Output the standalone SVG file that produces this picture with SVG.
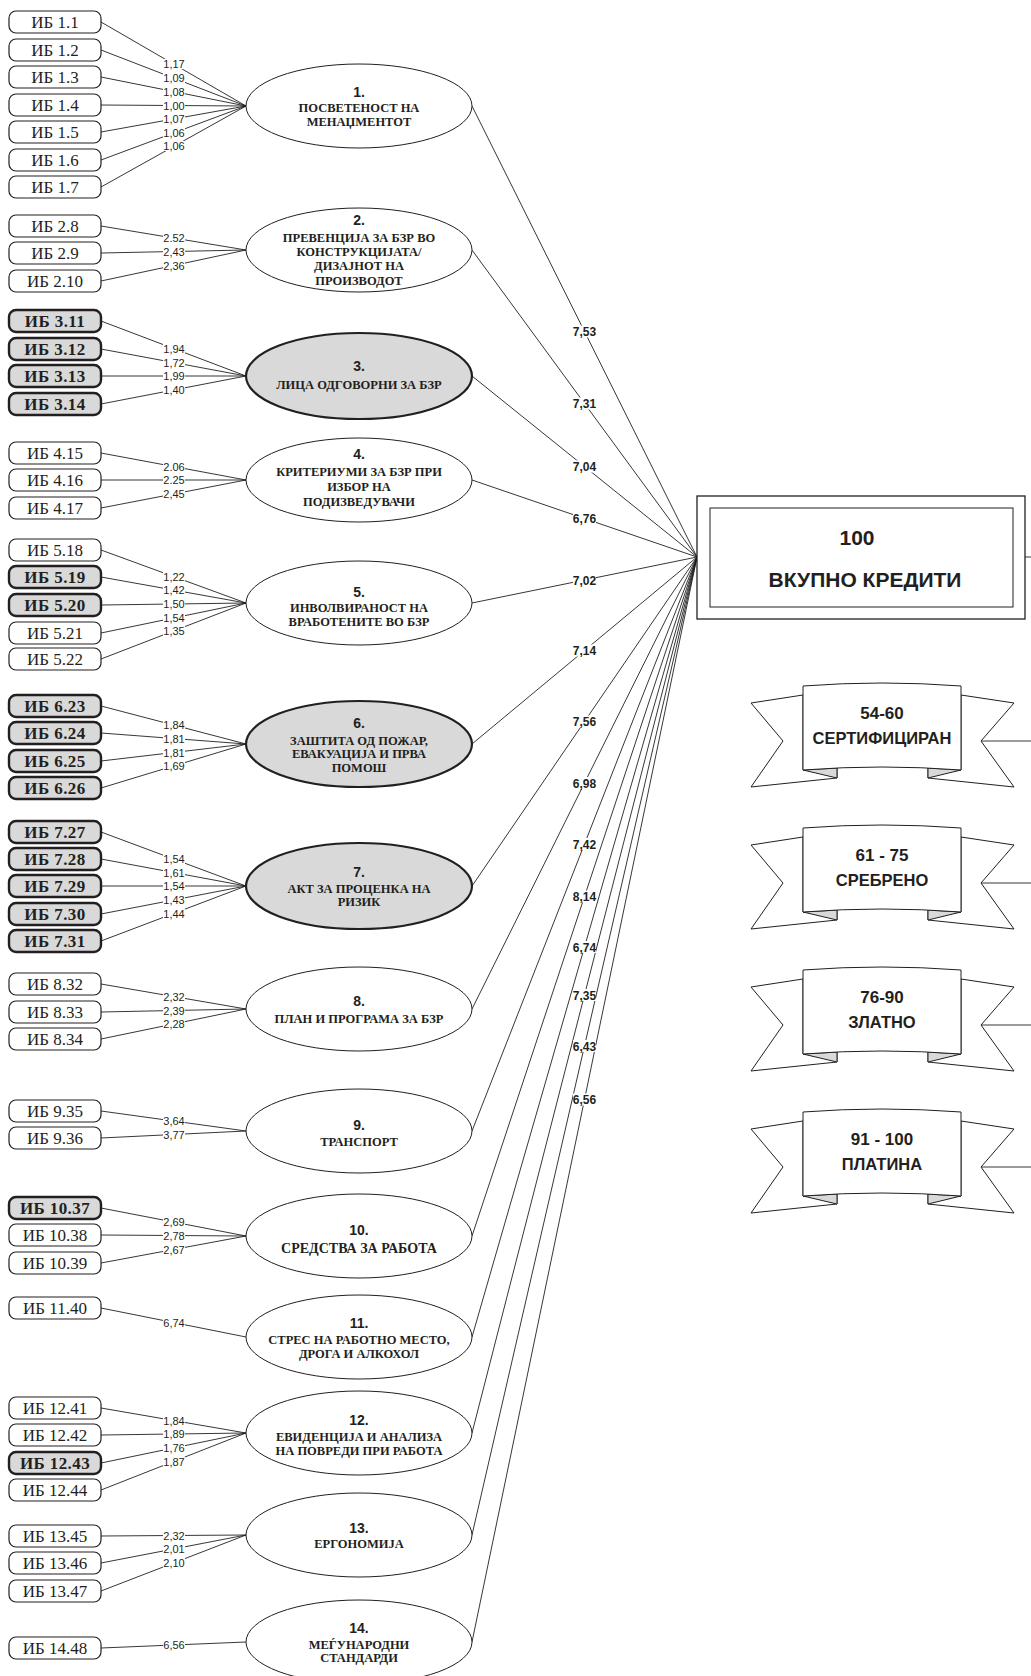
<svg xmlns="http://www.w3.org/2000/svg" xmlns:xlink="http://www.w3.org/1999/xlink" width="1031" height="1676" viewBox="0 0 1031 1676">
<style>
.bg{fill:#fff}
.ib rect{fill:#fff;stroke:#231f20;stroke-width:1.2}
.ib text{font-family:"Liberation Serif",serif;font-size:17px;fill:#231f20;text-anchor:middle}
.ibb rect{fill:#d9d9d9;stroke:#231f20;stroke-width:2.4}
.ibb text{font-family:"Liberation Serif",serif;font-size:17px;font-weight:bold;fill:#231f20;text-anchor:middle;letter-spacing:0.4px}
.el ellipse{fill:#fff;stroke:#231f20;stroke-width:1}
.elg ellipse{fill:#d9d9d9;stroke:#231f20;stroke-width:2.2}
.num{font-family:"Liberation Sans",sans-serif;font-size:14px;font-weight:bold;fill:#231f20;text-anchor:middle}
.et{font-family:"Liberation Serif",serif;font-size:12.5px;font-weight:bold;fill:#231f20;text-anchor:middle}
.conn line{stroke:#231f20;stroke-width:0.9}
.lb{font-family:"Liberation Sans",sans-serif;font-size:11px;fill:#231f20;text-anchor:middle}
.fl{font-family:"Liberation Sans",sans-serif;font-size:12px;font-weight:bold;fill:#231f20;text-anchor:middle}
.shape{fill:#fff;stroke:#231f20;stroke-width:1}
.fold{fill:#d9d9d9;stroke:#231f20;stroke-width:1}
.bt{font-family:"Liberation Sans",sans-serif;font-weight:bold;fill:#231f20;text-anchor:middle}
</style>
<defs>
<g id="bannerShape">
<polygon class="shape" points="803,695 751,703 783,741 751,787 837,778 837,768 803,770"/>
<polygon class="shape" points="961,695 1014,703 981,741 1014,787 928,778 928,768 961,770"/>
<polygon class="fold" points="803,770 837,768 837,778"/>
<polygon class="fold" points="961,770 928,768 928,778"/>
<path class="shape" d="M803,686 Q882,680 961,686 L961,770 Q882,764 803,770 Z"/>
</g>
</defs>
<rect x="0" y="0" width="1031" height="1676" fill="#fff"/>

<g id="connectors" class="conn">
<!-- group 1 -->
<line x1="101" y1="22" x2="246" y2="106"/>
<line x1="101" y1="50" x2="246" y2="106"/>
<line x1="101" y1="77" x2="246" y2="106"/>
<line x1="101" y1="105" x2="246" y2="106"/>
<line x1="101" y1="132" x2="246" y2="106"/>
<line x1="101" y1="160" x2="246" y2="106"/>
<line x1="101" y1="187" x2="246" y2="106"/>
<!-- group 2 -->
<line x1="101" y1="226" x2="246" y2="250"/>
<line x1="101" y1="253" x2="246" y2="250"/>
<line x1="101" y1="281" x2="246" y2="250"/>
<!-- group 3 -->
<line x1="101" y1="321" x2="246" y2="376"/>
<line x1="101" y1="349" x2="246" y2="376"/>
<line x1="101" y1="376" x2="246" y2="376"/>
<line x1="101" y1="404" x2="246" y2="376"/>
<!-- group 4 -->
<line x1="101" y1="453" x2="246" y2="480"/>
<line x1="101" y1="480" x2="246" y2="480"/>
<line x1="101" y1="508" x2="246" y2="480"/>
<!-- group 5 -->
<line x1="101" y1="550" x2="246" y2="603"/>
<line x1="101" y1="577" x2="246" y2="603"/>
<line x1="101" y1="605" x2="246" y2="603"/>
<line x1="101" y1="633" x2="246" y2="603"/>
<line x1="101" y1="659" x2="246" y2="603"/>
<!-- group 6 -->
<line x1="101" y1="706" x2="246" y2="744"/>
<line x1="101" y1="733" x2="246" y2="744"/>
<line x1="101" y1="761" x2="246" y2="744"/>
<line x1="101" y1="788" x2="246" y2="744"/>
<!-- group 7 -->
<line x1="101" y1="832" x2="246" y2="886"/>
<line x1="101" y1="859" x2="246" y2="886"/>
<line x1="101" y1="886" x2="246" y2="886"/>
<line x1="101" y1="914" x2="246" y2="886"/>
<line x1="101" y1="941" x2="246" y2="886"/>
<!-- group 8 -->
<line x1="101" y1="984" x2="246" y2="1009"/>
<line x1="101" y1="1012" x2="246" y2="1009"/>
<line x1="101" y1="1039" x2="246" y2="1009"/>
<!-- group 9 -->
<line x1="101" y1="1111" x2="246" y2="1131"/>
<line x1="101" y1="1138" x2="246" y2="1131"/>
<!-- group 10 -->
<line x1="101" y1="1208" x2="246" y2="1236"/>
<line x1="101" y1="1235" x2="246" y2="1236"/>
<line x1="101" y1="1263" x2="246" y2="1236"/>
<!-- group 11 -->
<line x1="101" y1="1308" x2="246" y2="1337"/>
<!-- group 12 -->
<line x1="101" y1="1408" x2="246" y2="1433"/>
<line x1="101" y1="1435" x2="246" y2="1433"/>
<line x1="101" y1="1463" x2="246" y2="1433"/>
<line x1="101" y1="1490" x2="246" y2="1433"/>
<!-- group 13 -->
<line x1="101" y1="1536" x2="246" y2="1535"/>
<line x1="101" y1="1563" x2="246" y2="1535"/>
<line x1="101" y1="1591" x2="246" y2="1535"/>
<!-- group 14 -->
<line x1="101" y1="1648" x2="246" y2="1642"/>
<!-- fan to total -->
<line x1="472" y1="106" x2="697" y2="557"/>
<line x1="472" y1="250" x2="697" y2="557"/>
<line x1="472" y1="376" x2="697" y2="557"/>
<line x1="472" y1="480" x2="697" y2="557"/>
<line x1="472" y1="603" x2="697" y2="557"/>
<line x1="472" y1="744" x2="697" y2="557"/>
<line x1="472" y1="886" x2="697" y2="557"/>
<line x1="472" y1="1009" x2="697" y2="557"/>
<line x1="472" y1="1131" x2="697" y2="557"/>
<line x1="472" y1="1236" x2="697" y2="557"/>
<line x1="472" y1="1337" x2="697" y2="557"/>
<line x1="472" y1="1433" x2="697" y2="557"/>
<line x1="472" y1="1535" x2="697" y2="557"/>
<line x1="472" y1="1642" x2="697" y2="557"/>
<!-- outgoing stubs -->
<line x1="1025" y1="557" x2="1031" y2="557"/>
<line x1="981" y1="741" x2="1031" y2="741"/>
<line x1="981" y1="883" x2="1031" y2="883"/>
<line x1="981" y1="1025" x2="1031" y2="1025"/>
<line x1="981" y1="1167" x2="1031" y2="1167"/>

<!-- IB weight labels -->
<g id="ib-labels">
<rect class="bg" x="163" y="59" width="22" height="10"/><text class="lb" x="174" y="68">1,17</text>
<rect class="bg" x="163" y="73" width="22" height="10"/><text class="lb" x="174" y="82">1,09</text>
<rect class="bg" x="163" y="87" width="22" height="10"/><text class="lb" x="174" y="95.5">1,08</text>
<rect class="bg" x="163" y="100.5" width="22" height="10"/><text class="lb" x="174" y="109.5">1,00</text>
<rect class="bg" x="163" y="114" width="22" height="10"/><text class="lb" x="174" y="123">1,07</text>
<rect class="bg" x="163" y="128" width="22" height="10"/><text class="lb" x="174" y="137">1,06</text>
<rect class="bg" x="163" y="141" width="22" height="10"/><text class="lb" x="174" y="150">1,06</text>

<rect class="bg" x="163" y="233" width="22" height="10"/><text class="lb" x="174" y="242">2.52</text>
<rect class="bg" x="163" y="246.5" width="22" height="10"/><text class="lb" x="174" y="255.5">2,43</text>
<rect class="bg" x="163" y="260.5" width="22" height="10"/><text class="lb" x="174" y="269.5">2,36</text>

<rect class="bg" x="163" y="343.5" width="22" height="10"/><text class="lb" x="174" y="352.5">1,94</text>
<rect class="bg" x="163" y="357.5" width="22" height="10"/><text class="lb" x="174" y="366.5">1,72</text>
<rect class="bg" x="163" y="371" width="22" height="10"/><text class="lb" x="174" y="380">1,99</text>
<rect class="bg" x="163" y="385" width="22" height="10"/><text class="lb" x="174" y="394">1,40</text>

<rect class="bg" x="163" y="461.5" width="22" height="10"/><text class="lb" x="174" y="470.5">2.06</text>
<rect class="bg" x="163" y="475" width="22" height="10"/><text class="lb" x="174" y="484">2.25</text>
<rect class="bg" x="163" y="489" width="22" height="10"/><text class="lb" x="174" y="498">2,45</text>

<rect class="bg" x="163" y="571.5" width="22" height="10"/><text class="lb" x="174" y="580.5">1,22</text>
<rect class="bg" x="163" y="585" width="22" height="10"/><text class="lb" x="174" y="594">1,42</text>
<rect class="bg" x="163" y="599" width="22" height="10"/><text class="lb" x="174" y="608">1,50</text>
<rect class="bg" x="163" y="613" width="22" height="10"/><text class="lb" x="174" y="622">1,54</text>
<rect class="bg" x="163" y="626" width="22" height="10"/><text class="lb" x="174" y="635">1,35</text>

<rect class="bg" x="163" y="720" width="22" height="10"/><text class="lb" x="174" y="729">1,84</text>
<rect class="bg" x="163" y="733.5" width="22" height="10"/><text class="lb" x="174" y="742.5">1,81</text>
<rect class="bg" x="163" y="747.5" width="22" height="10"/><text class="lb" x="174" y="756.5">1,81</text>
<rect class="bg" x="163" y="761" width="22" height="10"/><text class="lb" x="174" y="770">1,69</text>

<rect class="bg" x="163" y="854" width="22" height="10"/><text class="lb" x="174" y="863">1,54</text>
<rect class="bg" x="163" y="867.5" width="22" height="10"/><text class="lb" x="174" y="876.5">1,61</text>
<rect class="bg" x="163" y="881" width="22" height="10"/><text class="lb" x="174" y="890">1,54</text>
<rect class="bg" x="163" y="895" width="22" height="10"/><text class="lb" x="174" y="904">1,43</text>
<rect class="bg" x="163" y="908.5" width="22" height="10"/><text class="lb" x="174" y="917.5">1,44</text>

<rect class="bg" x="163" y="991.5" width="22" height="10"/><text class="lb" x="174" y="1000.5">2,32</text>
<rect class="bg" x="163" y="1005.5" width="22" height="10"/><text class="lb" x="174" y="1014.5">2,39</text>
<rect class="bg" x="163" y="1019" width="22" height="10"/><text class="lb" x="174" y="1028">2,28</text>

<rect class="bg" x="163" y="1116" width="22" height="10"/><text class="lb" x="174" y="1125">3,64</text>
<rect class="bg" x="163" y="1129.5" width="22" height="10"/><text class="lb" x="174" y="1138.5">3,77</text>

<rect class="bg" x="163" y="1217" width="22" height="10"/><text class="lb" x="174" y="1226">2,69</text>
<rect class="bg" x="163" y="1230.5" width="22" height="10"/><text class="lb" x="174" y="1239.5">2,78</text>
<rect class="bg" x="163" y="1244.5" width="22" height="10"/><text class="lb" x="174" y="1253.5">2,67</text>

<rect class="bg" x="163" y="1317.5" width="22" height="10"/><text class="lb" x="174" y="1326.5">6,74</text>

<rect class="bg" x="163" y="1415.5" width="22" height="10"/><text class="lb" x="174" y="1424.5">1,84</text>
<rect class="bg" x="163" y="1429" width="22" height="10"/><text class="lb" x="174" y="1438">1,89</text>
<rect class="bg" x="163" y="1443" width="22" height="10"/><text class="lb" x="174" y="1452">1,76</text>
<rect class="bg" x="163" y="1456.5" width="22" height="10"/><text class="lb" x="174" y="1465.5">1,87</text>

<rect class="bg" x="163" y="1530.5" width="22" height="10"/><text class="lb" x="174" y="1539.5">2,32</text>
<rect class="bg" x="163" y="1544" width="22" height="10"/><text class="lb" x="174" y="1553">2,01</text>
<rect class="bg" x="163" y="1558" width="22" height="10"/><text class="lb" x="174" y="1567">2,10</text>

<rect class="bg" x="163" y="1640" width="22" height="10"/><text class="lb" x="174" y="1649">6,56</text>
</g>

<!-- fan weight labels -->
<g id="fan-labels">
<rect class="bg" x="573" y="325.5" width="23" height="12"/><text class="fl" x="584.5" y="336">7,53</text>
<rect class="bg" x="573" y="397.5" width="23" height="12"/><text class="fl" x="584.5" y="408">7,31</text>
<rect class="bg" x="573" y="460.5" width="23" height="12"/><text class="fl" x="584.5" y="471">7,04</text>
<rect class="bg" x="573" y="512.5" width="23" height="12"/><text class="fl" x="584.5" y="523">6,76</text>
<rect class="bg" x="573" y="574" width="23" height="12"/><text class="fl" x="584.5" y="584.5">7,02</text>
<rect class="bg" x="573" y="644.5" width="23" height="12"/><text class="fl" x="584.5" y="655">7,14</text>
<rect class="bg" x="573" y="715.5" width="23" height="12"/><text class="fl" x="584.5" y="726">7,56</text>
<rect class="bg" x="573" y="777" width="23" height="12"/><text class="fl" x="584.5" y="787.5">6,98</text>
<rect class="bg" x="573" y="838" width="23" height="12"/><text class="fl" x="584.5" y="848.5">7,42</text>
<rect class="bg" x="573" y="890.5" width="23" height="12"/><text class="fl" x="584.5" y="901">8,14</text>
<rect class="bg" x="573" y="941" width="23" height="12"/><text class="fl" x="584.5" y="951.5">6,74</text>
<rect class="bg" x="573" y="989" width="23" height="12"/><text class="fl" x="584.5" y="999.5">7,35</text>
<rect class="bg" x="573" y="1040" width="23" height="12"/><text class="fl" x="584.5" y="1050.5">6,43</text>
<rect class="bg" x="573" y="1093.5" width="23" height="12"/><text class="fl" x="584.5" y="1104">6,56</text>
</g>
</g>

<!-- IB nodes -->
<g id="ib-1-1" class="ib"><rect x="9" y="11" width="92" height="22" rx="7"/><text x="55" y="28">ИБ 1.1</text></g>
<g id="ib-1-2" class="ib"><rect x="9" y="39" width="92" height="22" rx="7"/><text x="55" y="56">ИБ 1.2</text></g>
<g id="ib-1-3" class="ib"><rect x="9" y="66" width="92" height="22" rx="7"/><text x="55" y="83">ИБ 1.3</text></g>
<g id="ib-1-4" class="ib"><rect x="9" y="94" width="92" height="22" rx="7"/><text x="55" y="111">ИБ 1.4</text></g>
<g id="ib-1-5" class="ib"><rect x="9" y="121" width="92" height="22" rx="7"/><text x="55" y="138">ИБ 1.5</text></g>
<g id="ib-1-6" class="ib"><rect x="9" y="149" width="92" height="22" rx="7"/><text x="55" y="166">ИБ 1.6</text></g>
<g id="ib-1-7" class="ib"><rect x="9" y="176" width="92" height="22" rx="7"/><text x="55" y="193">ИБ 1.7</text></g>

<g id="ib-2-8" class="ib"><rect x="9" y="215" width="92" height="22" rx="7"/><text x="55" y="232">ИБ 2.8</text></g>
<g id="ib-2-9" class="ib"><rect x="9" y="242" width="92" height="22" rx="7"/><text x="55" y="259">ИБ 2.9</text></g>
<g id="ib-2-10" class="ib"><rect x="9" y="270" width="92" height="22" rx="7"/><text x="55" y="287">ИБ 2.10</text></g>

<g id="ib-3-11" class="ibb"><rect x="9" y="310" width="92" height="22" rx="7"/><text x="55" y="327">ИБ 3.11</text></g>
<g id="ib-3-12" class="ibb"><rect x="9" y="338" width="92" height="22" rx="7"/><text x="55" y="355">ИБ 3.12</text></g>
<g id="ib-3-13" class="ibb"><rect x="9" y="365" width="92" height="22" rx="7"/><text x="55" y="382">ИБ 3.13</text></g>
<g id="ib-3-14" class="ibb"><rect x="9" y="393" width="92" height="22" rx="7"/><text x="55" y="410">ИБ 3.14</text></g>

<g id="ib-4-15" class="ib"><rect x="9" y="442" width="92" height="22" rx="7"/><text x="55" y="459">ИБ 4.15</text></g>
<g id="ib-4-16" class="ib"><rect x="9" y="469" width="92" height="22" rx="7"/><text x="55" y="486">ИБ 4.16</text></g>
<g id="ib-4-17" class="ib"><rect x="9" y="497" width="92" height="22" rx="7"/><text x="55" y="514">ИБ 4.17</text></g>

<g id="ib-5-18" class="ib"><rect x="9" y="539" width="92" height="22" rx="7"/><text x="55" y="556">ИБ 5.18</text></g>
<g id="ib-5-19" class="ibb"><rect x="9" y="566" width="92" height="22" rx="7"/><text x="55" y="583">ИБ 5.19</text></g>
<g id="ib-5-20" class="ibb"><rect x="9" y="594" width="92" height="22" rx="7"/><text x="55" y="611">ИБ 5.20</text></g>
<g id="ib-5-21" class="ib"><rect x="9" y="622" width="92" height="22" rx="7"/><text x="55" y="639">ИБ 5.21</text></g>
<g id="ib-5-22" class="ib"><rect x="9" y="648" width="92" height="22" rx="7"/><text x="55" y="665">ИБ 5.22</text></g>

<g id="ib-6-23" class="ibb"><rect x="9" y="695" width="92" height="22" rx="7"/><text x="55" y="712">ИБ 6.23</text></g>
<g id="ib-6-24" class="ibb"><rect x="9" y="722" width="92" height="22" rx="7"/><text x="55" y="739">ИБ 6.24</text></g>
<g id="ib-6-25" class="ibb"><rect x="9" y="750" width="92" height="22" rx="7"/><text x="55" y="767">ИБ 6.25</text></g>
<g id="ib-6-26" class="ibb"><rect x="9" y="777" width="92" height="22" rx="7"/><text x="55" y="794">ИБ 6.26</text></g>

<g id="ib-7-27" class="ibb"><rect x="9" y="821" width="92" height="22" rx="7"/><text x="55" y="838">ИБ 7.27</text></g>
<g id="ib-7-28" class="ibb"><rect x="9" y="848" width="92" height="22" rx="7"/><text x="55" y="865">ИБ 7.28</text></g>
<g id="ib-7-29" class="ibb"><rect x="9" y="875" width="92" height="22" rx="7"/><text x="55" y="892">ИБ 7.29</text></g>
<g id="ib-7-30" class="ibb"><rect x="9" y="903" width="92" height="22" rx="7"/><text x="55" y="920">ИБ 7.30</text></g>
<g id="ib-7-31" class="ibb"><rect x="9" y="930" width="92" height="22" rx="7"/><text x="55" y="947">ИБ 7.31</text></g>

<g id="ib-8-32" class="ib"><rect x="9" y="973" width="92" height="22" rx="7"/><text x="55" y="990">ИБ 8.32</text></g>
<g id="ib-8-33" class="ib"><rect x="9" y="1001" width="92" height="22" rx="7"/><text x="55" y="1018">ИБ 8.33</text></g>
<g id="ib-8-34" class="ib"><rect x="9" y="1028" width="92" height="22" rx="7"/><text x="55" y="1045">ИБ 8.34</text></g>

<g id="ib-9-35" class="ib"><rect x="9" y="1100" width="92" height="22" rx="7"/><text x="55" y="1117">ИБ 9.35</text></g>
<g id="ib-9-36" class="ib"><rect x="9" y="1127" width="92" height="22" rx="7"/><text x="55" y="1144">ИБ 9.36</text></g>

<g id="ib-10-37" class="ibb"><rect x="9" y="1197" width="92" height="22" rx="7"/><text x="55" y="1214">ИБ 10.37</text></g>
<g id="ib-10-38" class="ib"><rect x="9" y="1224" width="92" height="22" rx="7"/><text x="55" y="1241">ИБ 10.38</text></g>
<g id="ib-10-39" class="ib"><rect x="9" y="1252" width="92" height="22" rx="7"/><text x="55" y="1269">ИБ 10.39</text></g>

<g id="ib-11-40" class="ib"><rect x="9" y="1297" width="92" height="22" rx="7"/><text x="55" y="1314">ИБ 11.40</text></g>

<g id="ib-12-41" class="ib"><rect x="9" y="1397" width="92" height="22" rx="7"/><text x="55" y="1414">ИБ 12.41</text></g>
<g id="ib-12-42" class="ib"><rect x="9" y="1424" width="92" height="22" rx="7"/><text x="55" y="1441">ИБ 12.42</text></g>
<g id="ib-12-43" class="ibb"><rect x="9" y="1452" width="92" height="22" rx="7"/><text x="55" y="1469">ИБ 12.43</text></g>
<g id="ib-12-44" class="ib"><rect x="9" y="1479" width="92" height="22" rx="7"/><text x="55" y="1496">ИБ 12.44</text></g>

<g id="ib-13-45" class="ib"><rect x="9" y="1525" width="92" height="22" rx="7"/><text x="55" y="1542">ИБ 13.45</text></g>
<g id="ib-13-46" class="ib"><rect x="9" y="1552" width="92" height="22" rx="7"/><text x="55" y="1569">ИБ 13.46</text></g>
<g id="ib-13-47" class="ib"><rect x="9" y="1580" width="92" height="22" rx="7"/><text x="55" y="1597">ИБ 13.47</text></g>

<g id="ib-14-48" class="ib"><rect x="9" y="1637" width="92" height="22" rx="7"/><text x="55" y="1654">ИБ 14.48</text></g>

<!-- Ellipse nodes -->
<g id="e1" class="el"><ellipse cx="359" cy="106" rx="113" ry="42"/>
<text class="num" x="359" y="97">1.</text>
<text class="et" x="359" y="112">ПОСВЕТЕНОСТ НА</text>
<text class="et" x="359" y="126">МЕНАЏМЕНТОТ</text></g>

<g id="e2" class="el"><ellipse cx="359" cy="250" rx="113" ry="42"/>
<text class="num" x="359" y="225">2.</text>
<text class="et" x="359" y="242">ПРЕВЕНЦИЈА ЗА БЗР ВО</text>
<text class="et" x="359" y="256">КОНСТРУКЦИЈАТА/</text>
<text class="et" x="359" y="270">ДИЗАЈНОТ НА</text>
<text class="et" x="359" y="285">ПРОИЗВОДОТ</text></g>

<g id="e3" class="elg"><ellipse cx="359" cy="376" rx="113" ry="43"/>
<text class="num" x="359" y="371">3.</text>
<text class="et" x="359" y="389">ЛИЦА ОДГОВОРНИ ЗА БЗР</text></g>

<g id="e4" class="el"><ellipse cx="359" cy="480" rx="113" ry="42"/>
<text class="num" x="359" y="459">4.</text>
<text class="et" x="359" y="476">КРИТЕРИУМИ ЗА БЗР ПРИ</text>
<text class="et" x="359" y="491">ИЗБОР НА</text>
<text class="et" x="359" y="506">ПОДИЗВЕДУВАЧИ</text></g>

<g id="e5" class="el"><ellipse cx="359" cy="603" rx="113" ry="42"/>
<text class="num" x="359" y="597">5.</text>
<text class="et" x="359" y="612">ИНВОЛВИРАНОСТ НА</text>
<text class="et" x="359" y="626">ВРАБОТЕНИТЕ ВО БЗР</text></g>

<g id="e6" class="elg"><ellipse cx="359" cy="744" rx="113" ry="43"/>
<text class="num" x="359" y="728">6.</text>
<text class="et" x="359" y="745">ЗАШТИТА ОД ПОЖАР,</text>
<text class="et" x="359" y="758">ЕВАКУАЦИЈА И ПРВА</text>
<text class="et" x="359" y="772">ПОМОШ</text></g>

<g id="e7" class="elg"><ellipse cx="359" cy="886" rx="113" ry="43"/>
<text class="num" x="359" y="877">7.</text>
<text class="et" x="359" y="893">АКТ ЗА ПРОЦЕНКА НА</text>
<text class="et" x="359" y="906">РИЗИК</text></g>

<g id="e8" class="el"><ellipse cx="359" cy="1009" rx="113" ry="42"/>
<text class="num" x="359" y="1006">8.</text>
<text class="et" x="359" y="1023">ПЛАН И ПРОГРАМА ЗА БЗР</text></g>

<g id="e9" class="el"><ellipse cx="359" cy="1131" rx="113" ry="42"/>
<text class="num" x="359" y="1130">9.</text>
<text class="et" x="359" y="1146">ТРАНСПОРТ</text></g>

<g id="e10" class="el"><ellipse cx="359" cy="1236" rx="113" ry="42"/>
<text class="num" x="359" y="1235">10.</text>
<text class="et" x="359" y="1253" style="font-size:14px">СРЕДСТВА ЗА РАБОТА</text></g>

<g id="e11" class="el"><ellipse cx="359" cy="1337" rx="113" ry="42"/>
<text class="num" x="359" y="1328">11.</text>
<text class="et" x="359" y="1344">СТРЕС НА РАБОТНО МЕСТО,</text>
<text class="et" x="359" y="1358">ДРОГА И АЛКОХОЛ</text></g>

<g id="e12" class="el"><ellipse cx="359" cy="1433" rx="113" ry="42"/>
<text class="num" x="359" y="1425">12.</text>
<text class="et" x="359" y="1441">ЕВИДЕНЦИЈА И АНАЛИЗА</text>
<text class="et" x="359" y="1455">НА ПОВРЕДИ ПРИ РАБОТА</text></g>

<g id="e13" class="el"><ellipse cx="359" cy="1535" rx="113" ry="42"/>
<text class="num" x="359" y="1533">13.</text>
<text class="et" x="359" y="1548">ЕРГОНОМИЈА</text></g>

<g id="e14" class="el"><ellipse cx="359" cy="1642" rx="113" ry="42"/>
<text class="num" x="359" y="1633">14.</text>
<text class="et" x="359" y="1649">МЕЃУНАРОДНИ</text>
<text class="et" x="359" y="1662">СТАНДАРДИ</text></g>

<!-- Total box -->
<g id="total">
<rect x="697" y="496" width="328" height="123" fill="#fff" stroke="#231f20" stroke-width="1.3"/>
<rect x="710" y="508" width="303" height="99" fill="#fff" stroke="#231f20" stroke-width="1"/>
<text class="bt" x="857" y="544.5" style="font-size:21px">100</text>
<text class="bt" x="865" y="586.5" style="font-size:21px">ВКУПНО КРЕДИТИ</text>
</g>

<!-- Banners -->
<g id="banner-1">
<use xlink:href="#bannerShape" href="#bannerShape"/>
<text class="bt" x="882" y="719" style="font-size:17px">54-60</text>
<text class="bt" x="882" y="744" style="font-size:16.5px">СЕРТИФИЦИРАН</text>
</g>
<g id="banner-2" transform="translate(0,142)">
<use xlink:href="#bannerShape" href="#bannerShape"/>
<text class="bt" x="882" y="719" style="font-size:17px">61 - 75</text>
<text class="bt" x="882" y="744" style="font-size:16.5px">СРЕБРЕНО</text>
</g>
<g id="banner-3" transform="translate(0,284)">
<use xlink:href="#bannerShape" href="#bannerShape"/>
<text class="bt" x="882" y="719" style="font-size:17px">76-90</text>
<text class="bt" x="882" y="744" style="font-size:16.5px">ЗЛАТНО</text>
</g>
<g id="banner-4" transform="translate(0,426)">
<use xlink:href="#bannerShape" href="#bannerShape"/>
<text class="bt" x="882" y="719" style="font-size:17px">91 - 100</text>
<text class="bt" x="882" y="744" style="font-size:16.5px">ПЛАТИНА</text>
</g>
</svg>
